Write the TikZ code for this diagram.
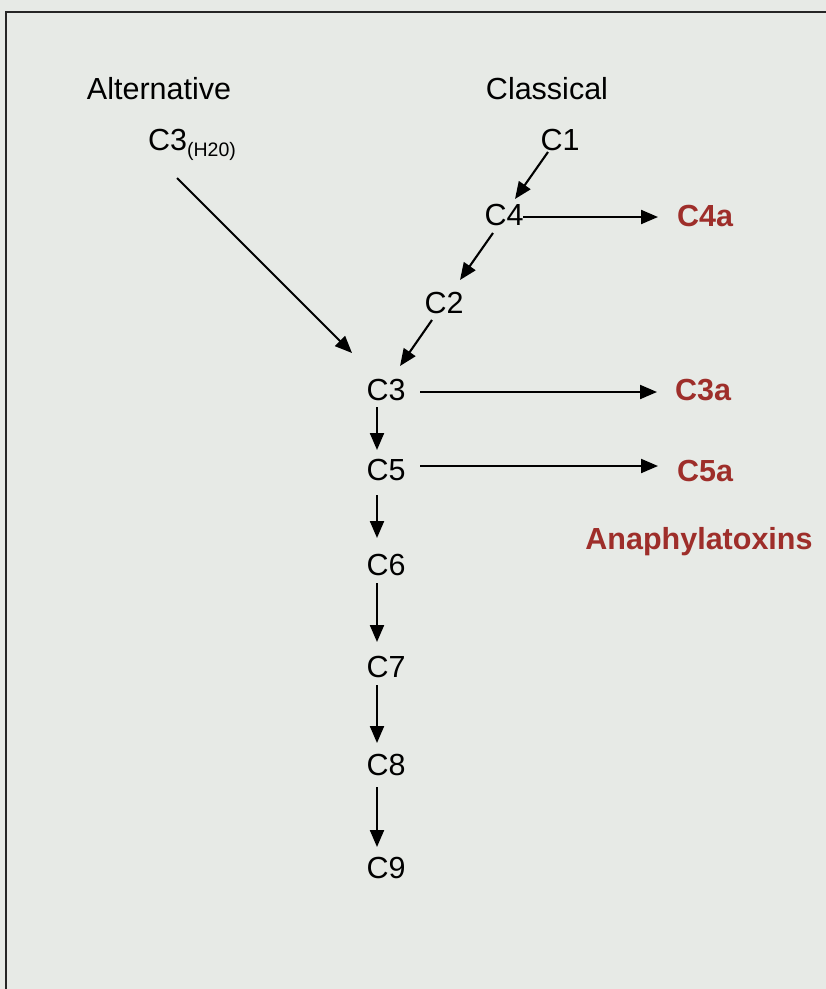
\documentclass[tikz,border=0pt]{standalone}
\usepackage{fontspec}
\setmainfont{Liberation Sans}
\usetikzlibrary{arrows.meta,calc}
\definecolor{bgcol}{HTML}{E7EAE6}
\definecolor{redtext}{HTML}{9E2E2A}
\tikzset{
  lbl/.style={anchor=base,inner sep=0pt,font=\fontsize{30.5}{34}\selectfont},
  redlbl/.style={lbl,text=redtext,font=\fontsize{30.5}{34}\selectfont\bfseries},
  arr/.style={line width=2.1pt,-{Triangle[length=17pt,width=14pt]}}
}
\begin{document}
\begin{tikzpicture}[x=1pt,y=-1pt]
\fill[bgcol] (0,0) rectangle (826,989);
\useasboundingbox (0,0) rectangle (826,989);
\draw[line width=2.4pt,draw=black!85] (6,989) -- (6,12) -- (826,12);

\node[lbl] (alt) at (159,99) {Alternative};
\node[lbl] (cla) at (547,99) {Classical};
\node[lbl] (h) at (192,150) {C3\raisebox{-6pt}{\fontsize{19.5}{20}\selectfont(H20)}};
\node[lbl] (c1) at (560,150) {C1};
\node[lbl] (c4) at (504,225) {C4};
\node[lbl] (c2) at (444,313) {C2};
\node[lbl] (c3) at (386,400) {C3};
\node[lbl] (c5) at (386,480) {C5};
\node[lbl] (c6) at (386,575) {C6};
\node[lbl] (c7) at (386,677) {C7};
\node[lbl] (c8) at (386,775) {C8};
\node[lbl] (c9) at (386,878) {C9};
\node[redlbl] (c4a) at (705,226) {C4a};
\node[redlbl] (c3a) at (703,400) {C3a};
\node[redlbl] (c5a) at (705,481) {C5a};
\node[redlbl] (ana) at (699,549) {Anaphylatoxins};

\draw[arr] ($(h.base)+(-15,28)$) -- ($(c3.base)+(-34,-47)$);
\draw[arr] ($(c1.base)+(-12,2)$) -- ($(c4.base)+(11,-26)$);
\draw[arr] ($(c4.base)+(19,-8)$) -- ($(c4a.base)+(-47,-9)$);
\draw[arr] ($(c4.base)+(-11,8)$) -- ($(c2.base)+(16,-33)$);
\draw[arr] ($(c2.base)+(-12,7)$) -- ($(c3.base)+(14,-34)$);
\draw[arr] ($(c3.base)+(34,-8)$) -- ($(c3a.base)+(-46,-8)$);
\draw[arr] ($(c5.base)+(34,-14)$) -- ($(c5a.base)+(-47,-15)$);
\draw[arr] ($(c3.base)+(-9,7)$) -- ($(c5.base)+(-9,-30)$);
\draw[arr] ($(c5.base)+(-9,15)$) -- ($(c6.base)+(-9,-37)$);
\draw[arr] ($(c6.base)+(-9,8)$) -- ($(c7.base)+(-9,-35)$);
\draw[arr] ($(c7.base)+(-9,8)$) -- ($(c8.base)+(-9,-32)$);
\draw[arr] ($(c8.base)+(-9,12)$) -- ($(c9.base)+(-9,-31)$);
\end{tikzpicture}
\end{document}
